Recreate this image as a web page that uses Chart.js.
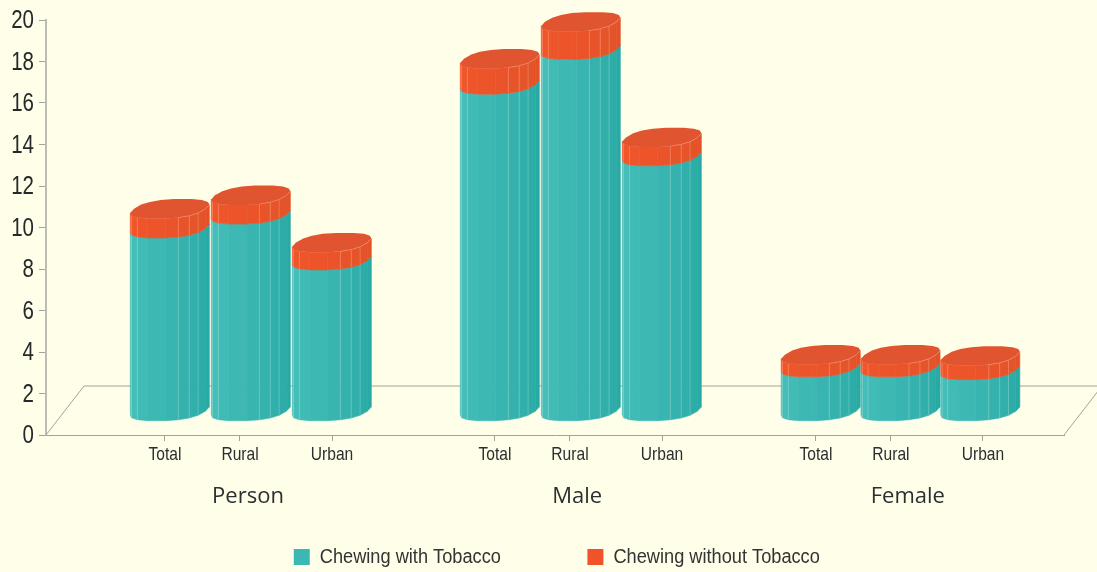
<!DOCTYPE html>
<html>
<head>
<meta charset="utf-8">
<title>Chewing tobacco chart</title>
<script src="https://cdn.jsdelivr.net/npm/chart.js@4"></script>
<style>
    html, body { margin: 0; padding: 0; background: #fffee9; }
    #wrap { width: 1097px; height: 572px; position: relative; }
</style>
</head>
<body>
<div id="wrap"><canvas id="myChart"></canvas></div>
<script>
// Data
const groups = ['Person', 'Male', 'Female'];
const areas = ['Total', 'Rural', 'Urban'];
const withTobacco = [8.83, 9.5, 7.29, 15.76, 17.44, 12.31, 2.14, 2.14, 2.0];
const withoutTobacco = [0.94, 0.92, 0.85, 1.24, 1.34, 0.9, 0.6, 0.6, 0.68];
const yTickStep = 2;
const yMax = 20;

// Layout of the x scale, one unit is one bar slot
const xMax = 12.568;
const groupStart = [1.294, 5.368, 9.33];
const groupStep = [1, 1, 0.985];
const areaTickShift = [0.175, 1.101, 2.237];
const groupLabelShift = [1.2, 1.19, 1.31];

// 3d look
const depthX = 38, depthY = 49;
const liftX = 19, liftY = 23.5;
const capB = 9.8, capSkew = 13, capRound = 0.8;
const facets = 18;
const sans = "'Liberation Sans', Arial, sans-serif";
const legendShift = 35;

function barX(i) {
    const g = Math.floor(i / 3);
    return groupStart[g] + (i % 3) * groupStep[g];
}

function toPoints(values) {
    return values.map((v, i) => ({ x: barX(i), y: v }));
}

function mix(a, b, t) {
    const c = a.map((v, i) => Math.round(v + (b[i] - v) * t));
    return `rgb(${c[0]},${c[1]},${c[2]})`;
}

// point on the slanted, slightly boxy ellipse, hw is half of the bar width
function rim(cx, cy, hw, t) {
    const a = Math.sqrt(hw * hw - capSkew * capSkew) * 0.96;
    const c = Math.sign(Math.cos(t)) * Math.pow(Math.abs(Math.cos(t)), capRound);
    const s = Math.sign(Math.sin(t)) * Math.pow(Math.abs(Math.sin(t)), capRound);
    return [cx + a * c + capSkew * s, cy - capB * s];
}

function startAngle(hw) {
    return Math.PI + Math.atan2(capSkew, Math.sqrt(hw * hw - capSkew * capSkew));
}

function drawSide(ctx, cx, yLow, yHigh, hw, left, right, seam) {
    const t0 = startAngle(hw);
    const step = 2 * Math.PI / facets;
    for (let k = 0; k < facets / 2; k++) {
        const p1 = rim(cx, 0, hw, t0 + k * step);
        const p2 = rim(cx, 0, hw, t0 + (k + 1) * step);
        ctx.fillStyle = mix(left, right, k / (facets / 2 - 1));
        ctx.strokeStyle = ctx.fillStyle;
        ctx.lineWidth = 0.6;
        ctx.beginPath();
        ctx.moveTo(p1[0], yHigh + p1[1]);
        ctx.lineTo(p2[0], yHigh + p2[1]);
        ctx.lineTo(p2[0], yLow + p2[1]);
        ctx.lineTo(p1[0], yLow + p1[1]);
        ctx.closePath();
        ctx.fill();
        ctx.stroke();
    }
    // pale seams between some of the facets
    ctx.strokeStyle = seam;
    ctx.lineWidth = 1;
    [1, 2, 5, 6, 7].forEach(k => {
        const p = rim(cx, 0, hw, t0 + k * step);
        ctx.beginPath();
        ctx.moveTo(p[0], yHigh + p[1]);
        ctx.lineTo(p[0], yLow + p[1]);
        ctx.stroke();
    });
}

function drawCap(ctx, cx, cy, hw) {
    ctx.fillStyle = '#e0542f';
    ctx.beginPath();
    for (let k = 0; k < facets; k++) {
        const p = rim(cx, cy, hw, k * 2 * Math.PI / facets);
        if (k === 0) ctx.moveTo(p[0], p[1]);
        else ctx.lineTo(p[0], p[1]);
    }
    ctx.closePath();
    ctx.fill();
    // faint light edge on the right part of the rim
    const t0 = startAngle(hw);
    const step = 2 * Math.PI / facets;
    ctx.strokeStyle = 'rgba(255,210,190,0.3)';
    ctx.lineWidth = 1;
    ctx.beginPath();
    for (let k = 5; k <= 9; k++) {
        const p = rim(cx, cy, hw, t0 + k * step);
        if (k === 5) ctx.moveTo(p[0], p[1]);
        else ctx.lineTo(p[0], p[1]);
    }
    ctx.stroke();
}

const floorAndBars = {
    id: 'floorAndBars',
    afterLayout(chart) {
        chart.legend.left += legendShift;
        chart.legend.right += legendShift;
    },
    beforeDatasetsDraw(chart) {
        const ctx = chart.ctx;
        const x = chart.scales.x, y = chart.scales.y;
        const l = x.left, r = x.right, b = y.bottom;
        ctx.save();
        ctx.strokeStyle = '#a3a39a';
        ctx.lineWidth = 1;
        ctx.beginPath();
        ctx.moveTo(l, b);
        ctx.lineTo(l + depthX, b - depthY);
        ctx.lineTo(r + depthX, b - depthY);
        ctx.lineTo(r, b);
        ctx.stroke();
        ctx.restore();
    },
    // the library's flat bars are replaced, their geometry is used below
    beforeDatasetDraw() {
        return false;
    },
    afterDatasetsDraw(chart) {
        const ctx = chart.ctx;
        const low = chart.getDatasetMeta(0).data;
        const high = chart.getDatasetMeta(1).data;
        ctx.save();
        low.forEach((bar, i) => {
            const top = high[i];
            const cx = bar.x + liftX;
            const hw = bar.width / 2;
            drawSide(ctx, cx, bar.base - liftY, bar.y - liftY, hw, [73, 192, 188], [41, 170, 165], 'rgba(255,255,255,0.22)');
            drawSide(ctx, cx, top.base - liftY, top.y - liftY, hw, [243, 85, 42], [226, 83, 41], 'rgba(255,200,170,0.3)');
            drawCap(ctx, cx, top.y - liftY, hw);
        });
        ctx.restore();
    }
};

const ctx = document.getElementById('myChart').getContext('2d');

// No narrow font here, so the Liberation labels get squeezed sideways
const rawFillText = ctx.fillText.bind(ctx);
ctx.fillText = (text, x, y, maxWidth) => {
    if (!ctx.font.includes('Liberation Sans')) {
        rawFillText(text, x, y, maxWidth);
        return;
    }
    ctx.save();
    ctx.translate(x, ctx.font.startsWith('25px') ? y + 1.5 : y);
    ctx.scale(ctx.font.startsWith('20px') ? 0.91 : 0.82, 1);
    rawFillText(text, 0, 0);
    ctx.restore();
};

new Chart(ctx, {
    type: 'bar',
    data: {
        datasets: [
            { label: 'Chewing with Tobacco', data: toPoints(withTobacco), backgroundColor: '#3cb8b4', barThickness: 79 },
            { label: 'Chewing without Tobacco', data: toPoints(withoutTobacco), backgroundColor: '#f0532a', barThickness: 79 }
        ]
    },
    options: {
        responsive: true,
        maintainAspectRatio: false,
        animation: false,
        layout: { padding: { left: 0, right: 33, top: 18, bottom: -5 } },
        scales: {
            y: {
                stacked: true,
                min: 0,
                max: yMax,
                afterFit: s => { s.width = 46; },
                border: { color: '#bdbdb4', width: 2 },
                grid: { drawOnChartArea: false, color: '#a3a39a', tickLength: 7 },
                ticks: { stepSize: yTickStep, color: '#26292a', padding: 5, font: { family: sans, size: 25 } }
            },
            x: {
                type: 'linear',
                stacked: true,
                offset: false,
                min: 0,
                max: xMax,
                weight: 0,
                afterFit: s => { s.height = 40; },
                afterBuildTicks: s => {
                    s.ticks = [];
                    groupStart.forEach(g => areaTickShift.forEach(d => s.ticks.push({ value: g + d })));
                },
                border: { color: '#a3a39a', width: 1 },
                grid: { drawOnChartArea: false, offset: false, color: '#a3a39a', tickLength: 6 },
                ticks: {
                    autoSkip: false,
                    maxRotation: 0,
                    padding: 2,
                    color: '#2b2f30',
                    font: { family: sans, size: 19 },
                    callback: (v, i) => areas[i % 3]
                }
            },
            x2: {
                type: 'linear',
                position: 'bottom',
                offset: false,
                min: 0,
                max: xMax,
                weight: 1,
                afterFit: s => { s.height = 70; },
                afterBuildTicks: s => {
                    s.ticks = groupStart.map((g, i) => ({ value: g + groupLabelShift[i] }));
                },
                border: { display: false },
                grid: { display: false },
                ticks: {
                    autoSkip: false,
                    maxRotation: 0,
                    padding: 1,
                    color: '#2b2f30',
                    font: { family: "'Open Sans', sans-serif", size: 22 },
                    callback: (v, i) => groups[i]
                }
            }
        },
        plugins: {
            tooltip: { enabled: false },
            legend: {
                position: 'bottom',
                labels: {
                    boxWidth: 16,
                    boxHeight: 16,
                    padding: 2,
                    color: '#333',
                    font: { family: sans, size: 20 },
                    // trailing spaces keep the two entries apart
                    generateLabels: chart => chart.data.datasets.map((d, i) => ({
                        text: i === 0 ? d.label + ' '.repeat(12) : d.label,
                        fillStyle: d.backgroundColor,
                        strokeStyle: d.backgroundColor,
                        lineWidth: 0,
                        fontColor: '#333',
                        datasetIndex: i
                    }))
                }
            }
        }
    },
    plugins: [floorAndBars]
});
</script>
</body>
</html>
